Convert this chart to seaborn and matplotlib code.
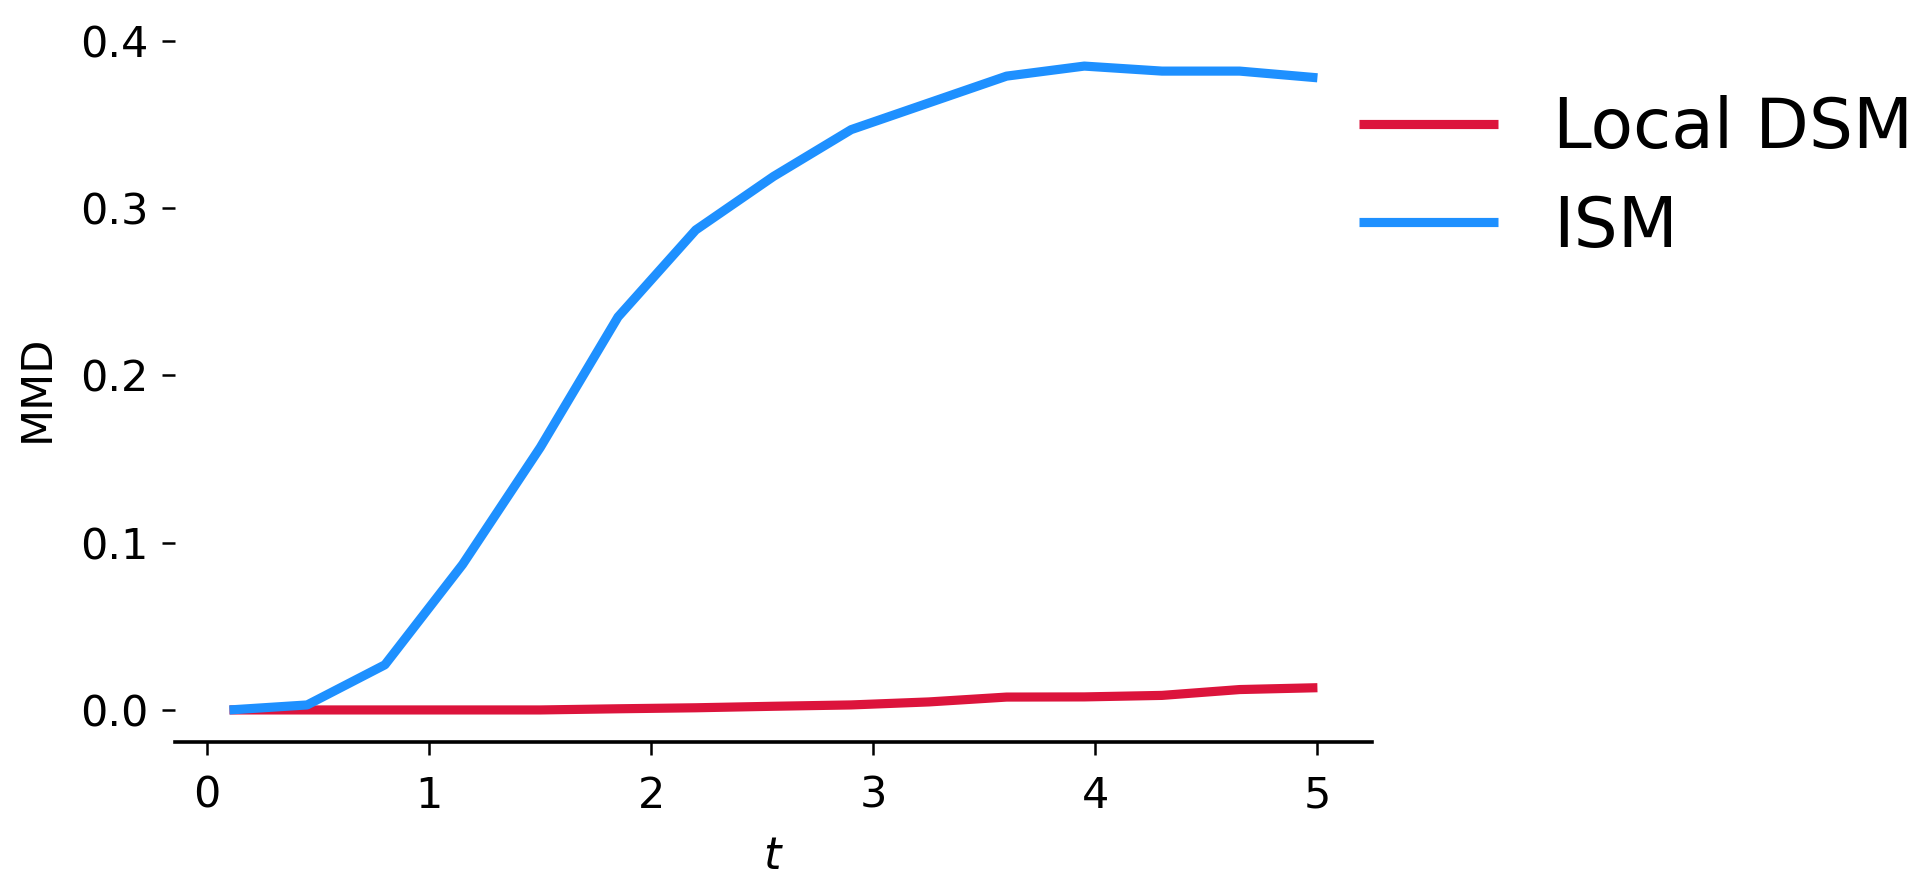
import numpy as np
import pandas as pd
import matplotlib
matplotlib.use("Agg")
import matplotlib.pyplot as plt
import seaborn as sns

t_vals = [0.1, 0.45, 0.8, 1.15, 1.5, 1.85, 2.2, 2.55, 2.9, 3.25, 3.6, 3.95, 4.3, 4.65, 5.0]
ism = [0.0, 0.003, 0.027, 0.087, 0.157, 0.235, 0.287, 0.319, 0.347, 0.363, 0.379, 0.385, 0.382, 0.382, 0.378]
local_dsm = [0.0, 0.0, 0.0, 0.0, 0.0, 0.0007, 0.0013, 0.0022, 0.003, 0.0048, 0.0077, 0.0078, 0.0087, 0.0122, 0.0133]
methods = ["Local DSM", "ISM"]
colors = {"Local DSM": "#DC143C", "ISM": "#1E90FF"}

df = pd.DataFrame({
    "t": t_vals * 2,
    "MMD": local_dsm + ism,
    "method": ["Local DSM"] * len(t_vals) + ["ISM"] * len(t_vals),
})

sns.set_style("ticks")
plt.rcParams['font.family'] = ['DejaVu Sans']
plt.rcParams['text.color'] = 'black'
plt.rcParams['axes.labelcolor'] = 'black'
plt.rcParams['lines.solid_capstyle'] = 'butt'

fig = plt.figure(figsize=(9.62, 4.46), dpi=200)
ax = fig.add_axes([0.091, 0.168, 0.622, 0.794])
sns.lineplot(data=df, x="t", y="MMD", hue="method", hue_order=methods,
             palette=colors, linewidth=3.3, ax=ax)
for ln in ax.get_lines():
    ln.set_solid_capstyle('butt')
sns.despine(ax=ax, left=True)
ax.spines['bottom'].set_linewidth(1.3)
ax.spines['bottom'].set_color('black')
ax.tick_params(axis='both', labelsize=15.5, length=4.7, width=0.9, colors='black')
ax.tick_params(axis='x', pad=7)
ax.tick_params(axis='y', pad=5)
ax.set_yticks([0.0, 0.1, 0.2, 0.3, 0.4])
ax.set_xticks([0, 1, 2, 3, 4, 5])
ax.set_xlabel("$t$", fontsize=16, color='black', labelpad=6.5)
ax.set_ylabel("MMD", fontsize=15.5, color='black')
ax.yaxis.set_label_coords(-0.098, 0.5)
leg = ax.legend(frameon=False, loc='center left', bbox_to_anchor=(0.6737, 0.8005),
                bbox_transform=fig.transFigure, fontsize=25, handlelength=2.0,
                handletextpad=0.8, labelspacing=0.45)
for txt in leg.get_texts():
    txt.set_color('black')
for h in leg.get_lines():
    h.set_solid_capstyle('butt')
fig.savefig("out.png", dpi=200)
